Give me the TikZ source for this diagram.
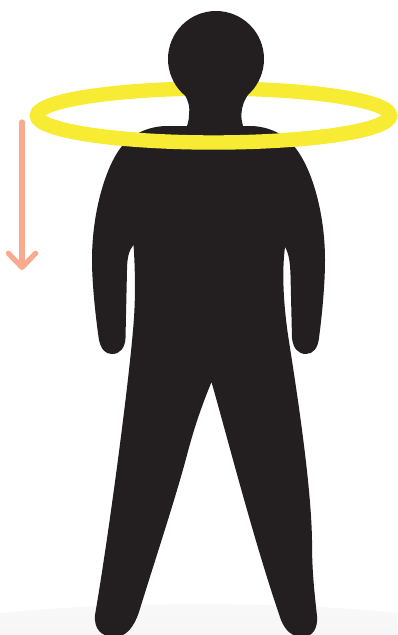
\documentclass[tikz,border=0pt]{standalone}
\usetikzlibrary{arrows.meta}
\definecolor{figblack}{RGB}{35,31,32}
\definecolor{ringyellow}{RGB}{247,236,51}
\definecolor{arrowsalmon}{RGB}{250,170,143}
\definecolor{floorgray}{RGB}{239,239,240}
\tikzset{
  figure/.style={fill=figblack, draw=none},
  ring/.style={draw=ringyellow, line width=8.2pt},
  downarrow/.style={draw=arrowsalmon, line width=3pt, line cap=round, -{Straight Barb[length=8pt, width=15.5pt, round]}}
}
\begin{document}
\begin{tikzpicture}[x=0.02cm, y=-0.02cm]
  \useasboundingbox (0,0) rectangle (397,635);
  % floor
  \begin{scope}
    \clip (0,0) rectangle (397,635);
    \shade[top color=floorgray!40, bottom color=floorgray] (200,660) ellipse [x radius=368, y radius=56];
  \end{scope}
  % back of the ring
  \draw[ring] (213.5,115.5) ellipse [x radius=176.5, y radius=27];
  % figure
  \fill[figure] (216,59) circle [radius=48];
  \fill[figure] (183,92)
    .. controls (189,101) and (190,108) .. (189,115)
    .. controls (189,119) and (188,123) .. (187,126)
    -- (165,126)
    .. controls (145,127) and (129,136) .. (119,150)
    .. controls (104,172) and (92,215) .. (92,260)
    .. controls (92,285) and (96,320) .. (99,340)
    .. controls (101,349) and (105,354) .. (112,354)
    .. controls (120,354) and (125,348) .. (125.5,338)
    -- (127,270)
    .. controls (127,258) and (129,250) .. (133.5,245)
    .. controls (135,265) and (136,300) .. (133,330)
    .. controls (128,390) and (108,540) .. (95,615)
    .. controls (94,628) and (100,637) .. (115,637)
    .. controls (126,637) and (134,627) .. (139,612)
    .. controls (155,560) and (175,500) .. (187,455)
    .. controls (194,428) and (202,405) .. (211.5,382)
    .. controls (228,440) and (255,545) .. (281,620)
    .. controls (285,630) and (292,637) .. (302,637)
    .. controls (313,637) and (318,628) .. (317,616)
    .. controls (313,580) and (312,565) .. (312,540)
    .. controls (311,480) and (295,380) .. (288,335)
    .. controls (283,300) and (282,270) .. (285,247)
    .. controls (289,254) and (290,262) .. (290.5,275)
    -- (292,338)
    .. controls (293,348) and (298,354) .. (306,354)
    .. controls (313,354) and (318,348) .. (319,338)
    .. controls (322,315) and (325,285) .. (325,260)
    .. controls (325,215) and (313,172) .. (297,150)
    .. controls (287,136) and (272,127) .. (252,126)
    -- (243,126)
    .. controls (242,122) and (241,118) .. (241.5,113)
    .. controls (242,106) and (244,100) .. (250,92)
    -- cycle;
  % front of the ring
  \draw[ring] (37,115.5) arc [start angle=180, end angle=360, x radius=176.5, y radius=-27];
  % arrow
  \coordinate (arrowtop) at (22,122);
  \coordinate (arrowtip) at (22,270);
  \draw[downarrow] (arrowtop) -- (arrowtip);
\end{tikzpicture}
\end{document}
